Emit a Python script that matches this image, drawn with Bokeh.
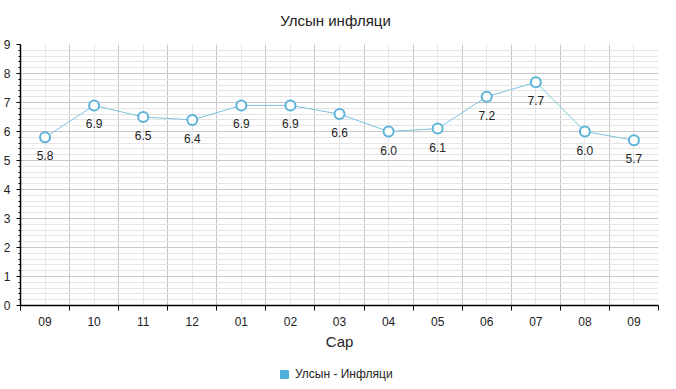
from bokeh.plotting import figure
from bokeh.layouts import column
from bokeh.models import (FixedTicker, Range1d, ColumnDataSource, Legend, LegendItem,
                          LabelSet, Title)
from bokeh.core.properties import value
from bokeh.embed import file_html
from bokeh.resources import INLINE

months = ["09", "10", "11", "12", "01", "02", "03", "04", "05", "06", "07", "08", "09"]
inflation = [5.8, 6.9, 6.5, 6.4, 6.9, 6.9, 6.6, 6.0, 6.1, 7.2, 7.7, 6.0, 5.7]
y_ticks = [0, 1, 2, 3, 4, 5, 6, 7, 8, 9]
series_name = "Улсын - Инфляци"
chart_title = "Улсын инфляци"

FONT = "Liberation Sans"
n = len(months)
xs = list(range(n))
boundaries = [i - 0.5 for i in range(n + 1)]
y_minor = [i / 5 for i in range(0, 46)]

# title strip above the chart
tp = figure(width=660, height=38, output_backend="svg", toolbar_location=None,
            x_range=Range1d(0, 1), y_range=Range1d(0, 1),
            min_border_left=19, min_border_right=3, min_border_top=0, min_border_bottom=0,
            outline_line_color=None)
tp.axis.visible = False
tp.grid.visible = False
tp.title = Title(text=chart_title, align="center", text_font=FONT, text_font_size="15px",
                 text_font_style="normal", text_color="#222222", standoff=18)

p = figure(frame_width=638, frame_height=261, output_backend="svg", toolbar_location=None,
           x_range=Range1d(-0.5, n - 0.5), y_range=Range1d(0, 9),
           min_border_left=4, min_border_right=10, min_border_top=6, min_border_bottom=55)
p.outline_line_color = None
p.background_fill_color = "white"

src = ColumnDataSource(dict(x=xs, y=inflation, lbl=[f"{v:.1f}" for v in inflation]))

# x axis
p.xaxis.ticker = FixedTicker(ticks=xs, minor_ticks=boundaries)
p.xaxis.major_label_overrides = {i: m for i, m in enumerate(months)}
p.xaxis.major_tick_out = 0
p.xaxis.major_tick_in = 0
p.xaxis.minor_tick_out = 5
p.xaxis.minor_tick_in = 0
p.xaxis.minor_tick_line_color = "black"
p.xaxis.axis_line_color = "black"
p.xaxis.axis_line_width = 1.5
p.xaxis.major_label_text_font = FONT
p.xaxis.major_label_text_font_size = "12px"
p.xaxis.major_label_text_color = "#222222"
p.xaxis.major_label_standoff = 6
p.xaxis.axis_label = "Сар"
p.xaxis.axis_label_text_font = FONT
p.xaxis.axis_label_text_font_size = "15px"
p.xaxis.axis_label_text_font_style = "normal"
p.xaxis.axis_label_text_color = "#222222"
p.xaxis.axis_label_standoff = 4

# y axis
p.yaxis.ticker = FixedTicker(ticks=y_ticks, minor_ticks=y_minor)
p.yaxis.major_tick_out = 4
p.yaxis.major_tick_in = 0
p.yaxis.minor_tick_out = 2
p.yaxis.minor_tick_in = 0
p.yaxis.axis_line_color = "black"
p.yaxis.axis_line_width = 1.5
p.yaxis.major_label_text_font = FONT
p.yaxis.major_label_text_font_size = "12px"
p.yaxis.major_label_text_color = "#222222"
p.yaxis.major_label_standoff = 6

# grids
p.xgrid.ticker = FixedTicker(ticks=xs, minor_ticks=boundaries)
p.xgrid.grid_line_color = "#e6e6e6"
p.xgrid.minor_grid_line_color = "#c8c8c8"
p.ygrid.ticker = FixedTicker(ticks=y_ticks, minor_ticks=y_minor)
p.ygrid.grid_line_color = "#c8c8c8"
p.ygrid.minor_grid_line_color = "#e4e4e4"

line_r = p.line("x", "y", source=src, line_color="#7cc0de", line_width=1)
pts = p.scatter("x", "y", source=src, size=10, fill_color="white", line_color="#5cb3d9", line_width=2)

labels = LabelSet(x="x", y="y", text="lbl", source=src, y_offset=-14, text_align="center",
                  text_baseline="top", text_font=value(FONT), text_font_size=value("12px"),
                  text_color="#222222")
p.add_layout(labels)

# legend strip below the chart (its renderer shares the series data, kept outside the view)
lg = figure(width=660, height=24, output_backend="svg", toolbar_location=None,
            x_range=Range1d(-0.5, n - 0.5), y_range=Range1d(-20, -19),
            min_border=0, outline_line_color=None)
lg.axis.visible = False
lg.grid.visible = False
leg_r = lg.scatter("x", "y", source=src, marker="square", size=8,
                   fill_color="#4fb0dc", line_color="#4fb0dc")
legend = Legend(items=[LegendItem(label=series_name, renderers=[leg_r])],
                location=(254, 0), orientation="horizontal", border_line_color=None,
                background_fill_alpha=0,
                label_text_font=FONT, label_text_font_size="12px", label_text_color="#222222",
                glyph_width=20, glyph_height=20, label_standoff=1, padding=2, margin=0,
                label_height=14)
lg.add_layout(legend)

layout = column(tp, p, lg, spacing=0)
open("out.html", "w").write(file_html(layout, INLINE))
